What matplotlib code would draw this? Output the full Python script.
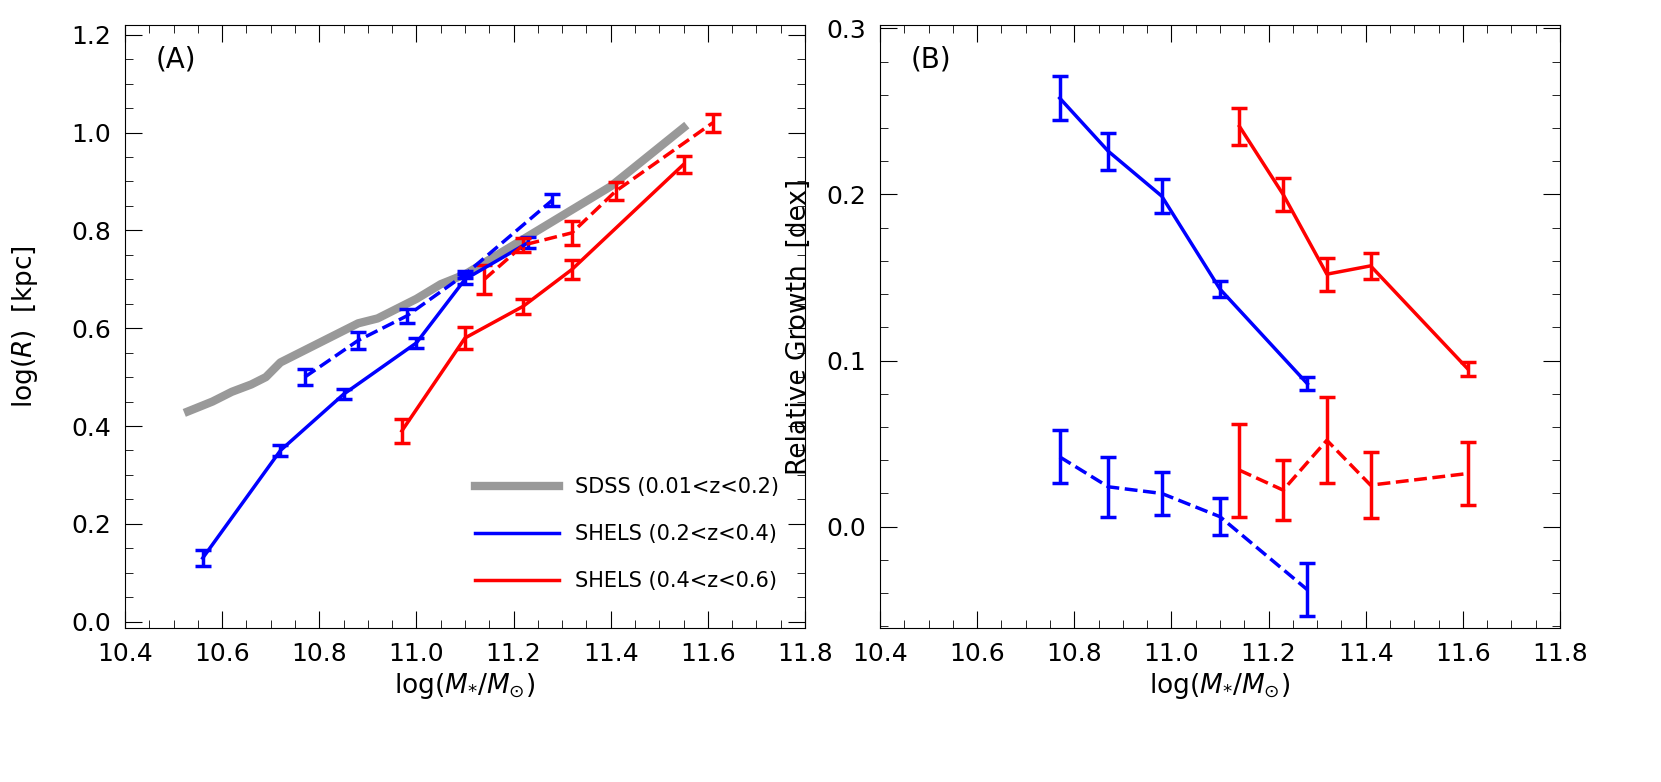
import matplotlib
matplotlib.use("Agg")
import matplotlib.pyplot as plt
from matplotlib.ticker import MultipleLocator
from matplotlib.lines import Line2D

sdss_x = [10.53,10.58,10.62,10.66,10.69,10.72,10.76,10.80,10.84,10.88,10.92,10.96,11.0,11.05,11.1,11.15,11.2,11.25,11.3,11.35,11.4,11.45,11.5,11.55]
sdss_y = [0.43,0.45,0.47,0.485,0.50,0.53,0.55,0.57,0.59,0.61,0.62,0.64,0.66,0.69,0.71,0.74,0.77,0.80,0.83,0.86,0.89,0.93,0.97,1.01]

bs_x = [10.56,10.72,10.85,11.0,11.1,11.23]
bs_y = [0.13,0.35,0.465,0.57,0.70,0.775]
bs_e = [0.017,0.012,0.01,0.01,0.01,0.012]
bd_x = [10.77,10.88,10.98,11.1,11.28]
bd_y = [0.50,0.575,0.625,0.71,0.862]
bd_e = [0.017,0.017,0.015,0.008,0.012]
rs_x = [10.97,11.1,11.22,11.32,11.55]
rs_y = [0.39,0.58,0.645,0.72,0.935]
rs_e = [0.025,0.022,0.015,0.02,0.018]
rd_x = [11.14,11.22,11.32,11.41,11.61]
rd_y = [0.70,0.77,0.795,0.88,1.02]
rd_e = [0.03,0.015,0.025,0.018,0.018]

gb_x = [10.77,10.87,10.98,11.1,11.28]
gbs_y = [0.258,0.226,0.199,0.143,0.086]
gbs_e = [0.013,0.011,0.01,0.005,0.004]
gbd_y = [0.042,0.024,0.020,0.006,-0.038]
gbd_e = [0.016,0.018,0.013,0.011,0.016]
gr_x = [11.14,11.23,11.32,11.41,11.61]
grs_y = [0.241,0.200,0.152,0.157,0.095]
grs_e = [0.011,0.01,0.01,0.008,0.004]
grd_y = [0.034,0.022,0.052,0.025,0.032]
grd_e = [0.028,0.018,0.026,0.02,0.019]

legend_labels = ['SDSS (0.01<z<0.2)', 'SHELS (0.2<z<0.4)', 'SHELS (0.4<z<0.6)']

plt.rcParams['font.family'] = ['DejaVu Sans']
plt.rcParams['mathtext.fontset'] = 'dejavusans'
fig = plt.figure(figsize=(16.61, 7.82), dpi=100)
ax1 = fig.add_axes([125/1661, 1-628/782, 680/1661, 603/782])
ax2 = fig.add_axes([880/1661, 1-628/782, 680/1661, 603/782])

eb = dict(capsize=6, capthick=2.5, elinewidth=2.5, lw=2.5)
ax1.plot(sdss_x, sdss_y, color='#999999', lw=6)
ax1.errorbar(bs_x, bs_y, yerr=bs_e, color='blue', ls='-', **eb)
ax1.errorbar(bd_x, bd_y, yerr=bd_e, color='blue', ls='--', **eb)
ax1.errorbar(rs_x, rs_y, yerr=rs_e, color='red', ls='-', **eb)
ax1.errorbar(rd_x, rd_y, yerr=rd_e, color='red', ls='--', **eb)
ax1.set_xlim(10.4, 11.8)
ax1.set_ylim(-0.013, 1.22)
ax1.yaxis.set_major_locator(MultipleLocator(0.2))
ax1.yaxis.set_minor_locator(MultipleLocator(0.05))
ax1.set_ylabel(r'log($R$)  [kpc]', fontsize=19)
ax1.yaxis.set_label_coords(-0.125, 0.5)
ax1.text(0.045, 0.93, '(A)', transform=ax1.transAxes, fontsize=20)
handles = [Line2D([], [], color='#999999', lw=6),
           Line2D([], [], color='blue', lw=2.5),
           Line2D([], [], color='red', lw=2.5)]
ax1.legend(handles, legend_labels, loc='lower right', bbox_to_anchor=(0.99, 0.03), frameon=False,
           fontsize=15, handlelength=4, labelspacing=1.3)

ax2.errorbar(gb_x, gbs_y, yerr=gbs_e, color='blue', ls='-', **eb)
ax2.errorbar(gb_x, gbd_y, yerr=gbd_e, color='blue', ls='--', **eb)
ax2.errorbar(gr_x, grs_y, yerr=grs_e, color='red', ls='-', **eb)
ax2.errorbar(gr_x, grd_y, yerr=grd_e, color='red', ls='--', **eb)
ax2.set_xlim(10.4, 11.8)
ax2.set_ylim(-0.061, 0.302)
ax2.yaxis.set_major_locator(MultipleLocator(0.1))
ax2.yaxis.set_minor_locator(MultipleLocator(0.02))
ax2.set_ylabel('Relative Growth  [dex]', fontsize=19)
ax2.yaxis.set_label_coords(-0.1, 0.5)
ax2.text(0.045, 0.93, '(B)', transform=ax2.transAxes, fontsize=20)

for ax in (ax1, ax2):
    ax.xaxis.set_major_locator(MultipleLocator(0.2))
    ax.xaxis.set_minor_locator(MultipleLocator(0.05))
    ax.tick_params(which='both', direction='in', top=True, right=True, labelsize=18, pad=10)
    ax.tick_params(which='major', length=12)
    ax.tick_params(which='minor', length=6)
    ax.set_xlabel(r'log($M_{*}/M_{\odot}$)', fontsize=19)

fig.savefig('out.png', dpi=100)
